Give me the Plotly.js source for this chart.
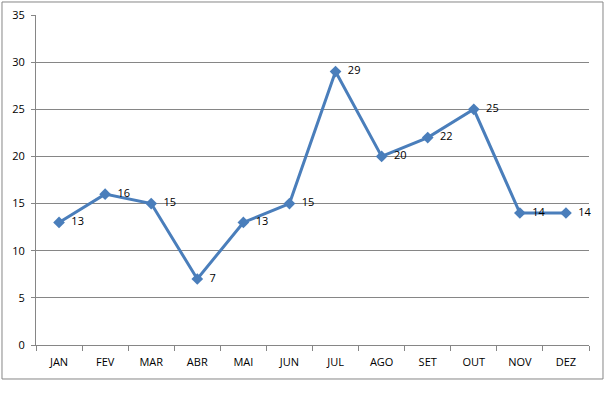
<!DOCTYPE html>
<html>
<head>
<meta charset="utf-8">
<script src="https://cdn.plot.ly/plotly-3.0.1.min.js"></script>
<style>html,body{margin:0;padding:0;background:#fff;}#chart{width:610px;height:394px;}</style>
</head>
<body>
<div id="chart"></div>
<script>
const months = ["JAN","FEV","MAR","ABR","MAI","JUN","JUL","AGO","SET","OUT","NOV","DEZ"];
const values = [13,16,15,7,13,15,29,20,22,25,14,14];
const yTicks = [0,5,10,15,20,25,30,35];

const lineColor = "#4A7EBB";
const gridColor = "#868686";
const fontFam = "Open Sans, Liberation Sans, sans-serif";

const trace = {
  x: months,
  y: values,
  type: "scatter",
  mode: "lines+markers+text",
  text: values.map(v => "\u00a0\u00a0" + v),
  textposition: "middle right",
  textfont: {family: fontFam, size: 11, color: "#000"},
  line: {color: lineColor, width: 3},
  marker: {symbol: "diamond", size: 9, color: lineColor},
  cliponaxis: false,
  hoverinfo: "x+y"
};

const layout = {
  width: 610, height: 394,
  margin: {l: 36, r: 21, t: 15, b: 49},
  paper_bgcolor: "#fff",
  plot_bgcolor: "#fff",
  showlegend: false,
  font: {family: fontFam, size: 11, color: "#000"},
  xaxis: {
    type: "category",
    range: [-0.5, 11.5],
    showgrid: false,
    showline: true,
    linecolor: gridColor,
    linewidth: 1,
    ticks: "outside",
    tickson: "boundaries",
    ticklen: 5,
    tickcolor: gridColor,
    tickfont: {family: fontFam, size: 11, color: "#000"},
    ticklabelstandoff: 7,
    fixedrange: true
  },
  yaxis: {
    range: [0, 35],
    tickvals: yTicks,
    showgrid: true,
    gridcolor: gridColor,
    gridwidth: 1,
    zeroline: false,
    showline: true,
    linecolor: gridColor,
    ticks: "outside",
    ticklen: 4,
    tickcolor: gridColor,
    tickfont: {family: fontFam, size: 11, color: "#000"},
    ticklabelstandoff: 4,
    fixedrange: true
  },
  shapes: [{
    type: "rect", xref: "paper", yref: "paper",
    x0: -0.0615, x1: 1.0253, y0: -0.103, y1: 1.0394,
    line: {color: gridColor, width: 1}, fillcolor: "rgba(0,0,0,0)", layer: "below"
  }]
};

Plotly.newPlot("chart", [trace], layout, {displayModeBar: false, staticPlot: true});
</script>
</body>
</html>
